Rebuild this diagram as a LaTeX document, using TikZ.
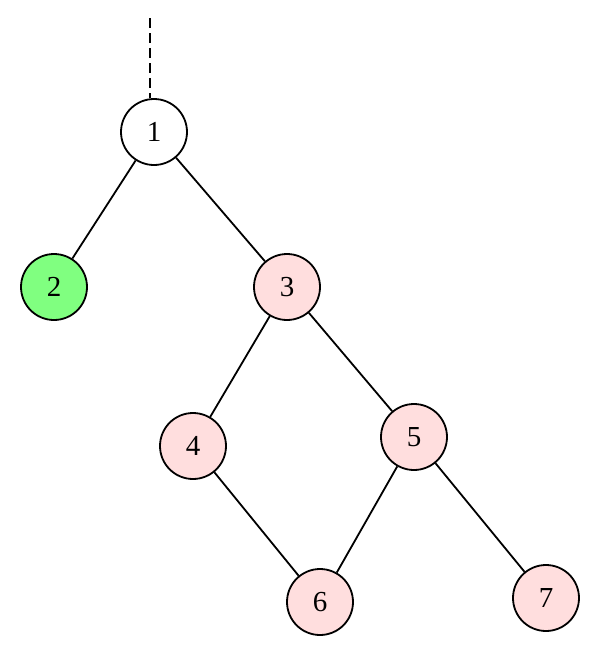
\documentclass[tikz,border=0pt]{standalone}
\usepackage{fontspec}
\setmainfont{Liberation Serif}
\usetikzlibrary{positioning}
\definecolor{cLeaf}{HTML}{80FF80}
\definecolor{cPath}{HTML}{FFDEDE}

\tikzset{
  vert/.style={circle,draw=black,line width=1.8pt,minimum size=66pt,inner sep=0pt,
               font=\fontsize{29}{31}\selectfont},
  edge/.style={line width=1.8pt}
}

\begin{document}
\begin{tikzpicture}[x=1pt,y=-1pt]
  \useasboundingbox (0,0) rectangle (600,654);
  % vertices
  \node[vert,fill=white] (v1) at (154,132) {1};
  \node[vert,fill=cLeaf] (v2) at (54,287) {2};
  \node[vert,fill=cPath] (v3) at (287,287) {3};
  \node[vert,fill=cPath] (v4) at (193,446) {4};
  \node[vert,fill=cPath] (v5) at (414,437) {5};
  \node[vert,fill=cPath] (v6) at (320,602) {6};
  \node[vert,fill=cPath] (v7) at (546,598) {7};
  \coordinate (top) at (150,18);
  % edges
  \draw[edge,dash pattern=on 10pt off 5pt] (top) -- (v1.north -| top);
  \draw[edge] (v1) -- (v2);
  \draw[edge] (v1) -- (v3);
  \draw[edge] (v3) -- (v4);
  \draw[edge] (v3) -- (v5);
  \draw[edge] (v4) -- (v6);
  \draw[edge] (v5) -- (v6);
  \draw[edge] (v5) -- (v7);
\end{tikzpicture}
\end{document}
